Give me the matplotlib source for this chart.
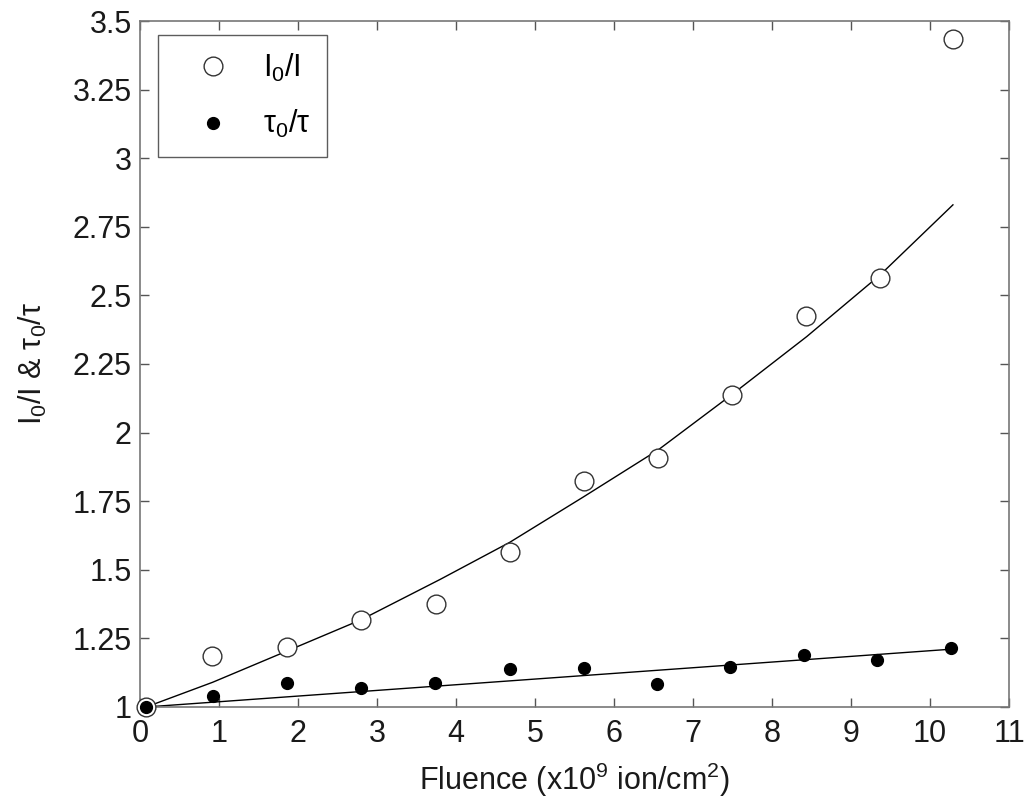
import matplotlib
matplotlib.use("Agg")
import matplotlib.pyplot as plt
from matplotlib.ticker import MultipleLocator, FuncFormatter

plt.rcParams['font.family'] = ['Liberation Sans', 'DejaVu Sans']
plt.rcParams['mathtext.fontset'] = 'custom'
plt.rcParams['mathtext.rm'] = 'Liberation Sans'
plt.rcParams['mathtext.it'] = 'Liberation Sans'

# measured points (fluence in 1e9 ion/cm2)
fluence = [0.08, 0.91, 1.86, 2.80, 3.75, 4.68, 5.62, 6.56, 7.49, 8.43, 9.37, 10.29]
i_ratio = [1.0, 1.186, 1.219, 1.317, 1.374, 1.565, 1.824, 1.907, 2.137, 2.425, 2.563, 3.434]
fluence_tau = [0.08, 0.92, 1.86, 2.80, 3.74, 4.68, 5.62, 6.55, 7.47, 8.40, 9.33, 10.26]
tau_ratio = [1.0, 1.04, 1.087, 1.07, 1.087, 1.138, 1.142, 1.084, 1.146, 1.19, 1.171, 1.215]

# fitted curves
fit_x = [0.08, 0.92, 1.87, 2.80, 3.80, 4.68, 5.61, 6.56, 7.49, 8.44, 9.37, 10.29]
fit_i = [1.0, 1.09, 1.205, 1.318, 1.465, 1.60, 1.765, 1.937, 2.138, 2.35, 2.575, 2.83]
fit_tau_x = [0.08, 10.29]
fit_tau = [1.0, 1.211]

fig = plt.figure(figsize=(10.27, 8.02), dpi=100)
ax = fig.add_axes([0.1363, 0.1185, 0.8462, 0.8553])

ax.plot(fit_x, fit_i, color='black', lw=1.0)
ax.plot(fit_tau_x, fit_tau, color='black', lw=1.0)
ax.plot(fluence, i_ratio, 'o', ms=13.5, mfc='white', mec='#333333', mew=1.0,
        label=r'$\mathregular{I_0/I}$', clip_on=False, zorder=3)
ax.plot(fluence_tau, tau_ratio, 'o', ms=8.5, mfc='black', mec='black',
        label=r'$\mathregular{\tau_0/\tau}$', clip_on=False, zorder=4)

ax.set_xlim(0, 11)
ax.set_ylim(1, 3.5)
ax.xaxis.set_major_locator(MultipleLocator(1))
ax.yaxis.set_major_locator(MultipleLocator(0.25))
ax.yaxis.set_major_formatter(FuncFormatter(lambda v, p: ('%.2f' % v).rstrip('0').rstrip('.')))
ax.tick_params(direction='in', top=True, right=True, length=6.5, width=1.0,
               color='#555555', labelsize=22, labelcolor='#1a1a1a')
ax.tick_params(axis='x', pad=9)
ax.tick_params(axis='y', pad=6)
for s in ax.spines.values():
    s.set_color('#777777')
    s.set_linewidth(1.2)

ax.set_xlabel(r'Fluence (x10$^{9}$ ion/cm$^{2}$)', fontsize=22, color='#1a1a1a', labelpad=8)
ax.set_ylabel(r'I$_0$/I & $\mathregular{\tau_0/\tau}$', fontsize=22, color='#1a1a1a', labelpad=17)

leg = ax.legend(loc='upper left', fontsize=22, frameon=True, fancybox=False,
                edgecolor='#333333', borderpad=0.55, handlelength=2.5, handletextpad=0.4,
                labelspacing=0.8, borderaxespad=0, bbox_to_anchor=(0.0207, 0.9796))
leg.get_frame().set_linewidth(1.0)

fig.savefig('out.png', dpi=100)
